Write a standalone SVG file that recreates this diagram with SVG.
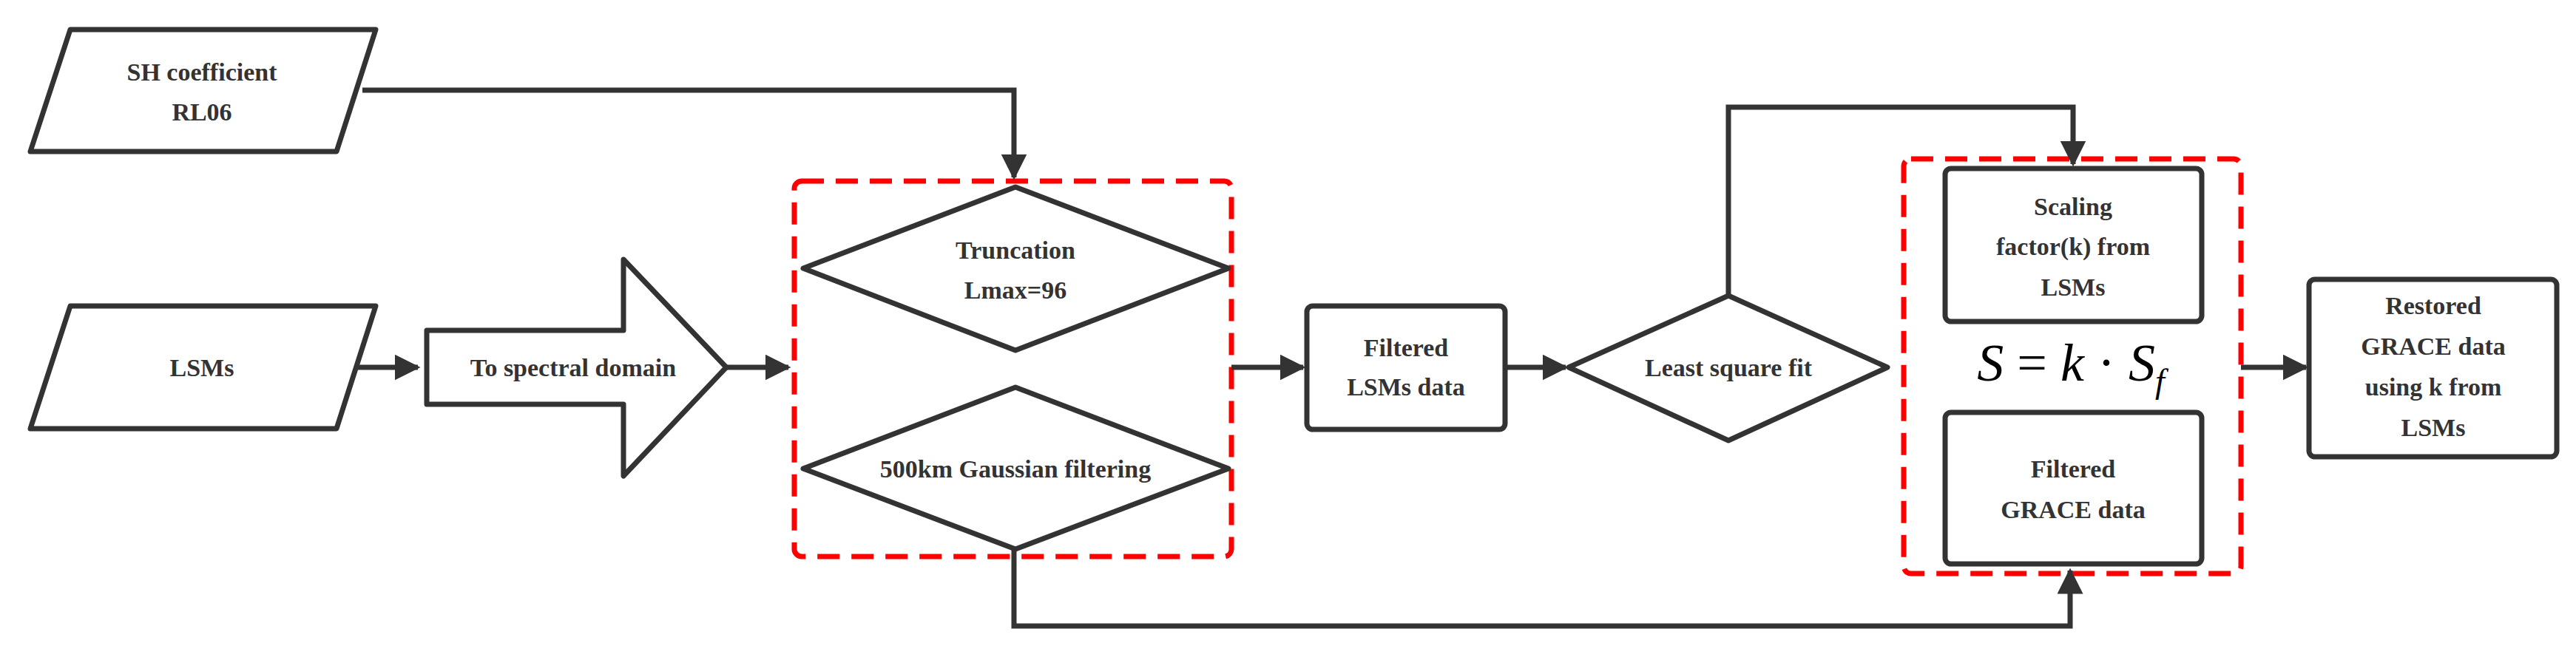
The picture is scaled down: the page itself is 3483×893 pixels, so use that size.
<svg xmlns="http://www.w3.org/2000/svg" width="3483" height="893" viewBox="0 0 3483 893">
<style>
.n{fill:#fff;stroke:#333;stroke-width:7;stroke-linejoin:round}
.t{font-family:"Liberation Serif",serif;font-weight:bold;font-size:34px;fill:#333;text-anchor:middle;dominant-baseline:central}
.c{fill:none;stroke:#333;stroke-width:7}
.r{fill:none;stroke:#f00;stroke-width:7;stroke-dasharray:30 16}
</style>
<defs><marker id="a" markerWidth="5" markerHeight="5" refX="4.5" refY="2.5" orient="auto" markerUnits="strokeWidth"><path d="M0,0L5,2.5L0,5z" fill="#333"/></marker></defs>
<rect class="r" x="1074" y="245" width="591" height="508" rx="10"/>
<rect class="r" x="2574" y="215" width="456" height="561" rx="10"/>
<g id="connectors">
<path class="c" d="M490,122H1371V240" marker-end="url(#a)"/>
<path class="c" d="M470,497H565" marker-end="url(#a)"/>
<path class="c" d="M982,497H1066" marker-end="url(#a)"/>
<path class="c" d="M1665,497H1762" marker-end="url(#a)"/>
<path class="c" d="M2035,497H2117" marker-end="url(#a)"/>
<path class="c" d="M2337,400V145H2803V222" marker-end="url(#a)"/>
<path class="c" d="M1371,743V847H2799V772" marker-end="url(#a)"/>
<path class="c" d="M3030,497H3118" marker-end="url(#a)"/>
</g>
<g id="sh"><path class="n" d="M95,40H508L455,205H41Z"/><text class="t" x="273" y="97">SH coefficient</text><text class="t" x="273" y="151">RL06</text></g>
<g id="lsms"><path class="n" d="M95,414H508L455,580H41Z"/><text class="t" x="273" y="497">LSMs</text></g>
<g id="spectral"><path class="n" d="M577,447H843V351L982,497L843,644V547H577Z"/><text class="t" x="775" y="497">To spectral domain</text></g>
<g id="trunc"><path class="n" d="M1373,253L1661,363L1373,474L1086,363Z"/><text class="t" x="1373" y="338">Truncation</text><text class="t" x="1373" y="392">Lmax=96</text></g>
<g id="gauss"><path class="n" d="M1373,524L1661,634L1373,743L1086,634Z"/><text class="t" x="1373" y="634">500km Gaussian filtering</text></g>
<g id="filtlsm"><rect class="n" x="1767" y="414" width="268" height="167" rx="8"/><text class="t" x="1901" y="470">Filtered</text><text class="t" x="1901" y="523">LSMs data</text></g>
<g id="lsq"><path class="n" d="M2337,400L2552,497L2337,596L2121,497Z"/><text class="t" x="2337" y="497">Least square fit</text></g>
<g id="scale"><rect class="n" x="2630" y="228" width="347" height="207" rx="8"/><text class="t" x="2803" y="279">Scaling</text><text class="t" x="2803" y="333">factor(k) from</text><text class="t" x="2803" y="388">LSMs</text></g>
<g id="formula"><text x="2800" y="515" font-family="Liberation Serif,serif" font-size="72" fill="#000" text-anchor="middle"><tspan font-style="italic">S</tspan> = <tspan font-style="italic">k</tspan> · <tspan font-style="italic">S</tspan><tspan font-style="italic" font-size="46" dy="16">f</tspan></text></g>
<g id="fgrace"><rect class="n" x="2630" y="558" width="347" height="205" rx="8"/><text class="t" x="2803" y="634">Filtered</text><text class="t" x="2803" y="689">GRACE data</text></g>
<g id="restored"><rect class="n" x="3122" y="378" width="335" height="240" rx="8"/><text class="t" x="3290" y="413">Restored</text><text class="t" x="3290" y="468">GRACE data</text><text class="t" x="3290" y="523">using k from</text><text class="t" x="3290" y="578">LSMs</text></g>
</svg>
